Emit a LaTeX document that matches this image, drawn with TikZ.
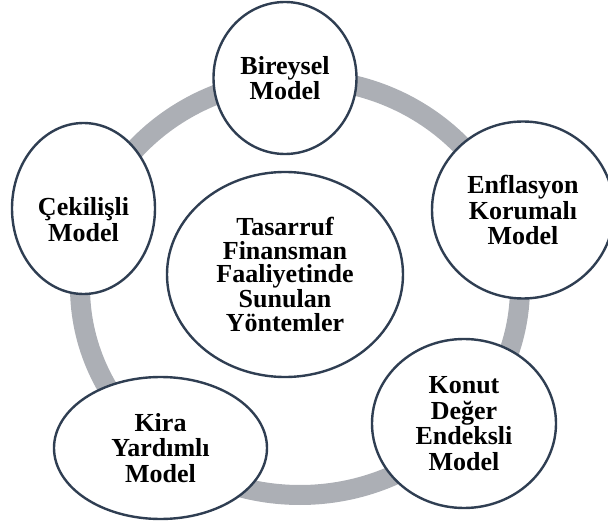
\documentclass[tikz,border=0pt]{standalone}
\usepackage{fontspec}
\setmainfont{Liberation Serif}
\usetikzlibrary{shapes.geometric, positioning}
\definecolor{ringgray}{RGB}{172,175,181}
\definecolor{edgeblue}{RGB}{47,62,82}

\begin{document}
\begin{tikzpicture}
	[x=1pt, y=1pt, on grid,
	 model/.style={ellipse, draw=edgeblue, line width=2.4pt, fill=white, align=center,
	   inner sep=0pt, font=\fontsize{26}{25.5}\selectfont\bfseries}]
   \useasboundingbox (0,0) rectangle (608,520);
   % grey ring behind the models
   \draw[ringgray, line width=20pt] (300,233) ellipse [x radius=220, y radius=208];
   \node[model, minimum width=236pt, minimum height=205pt,
     font=\fontsize{26}{23.5}\selectfont\bfseries] (m_0) at (285,245.5)
     {Tasarruf\\Finansman\\Faaliyetinde\\Sunulan\\Yöntemler};
   \node[model, minimum width=143pt, minimum height=152pt] (m_1) [above=196.5pt of m_0] {Bireysel\\Model};
   \node[model, minimum width=182pt, minimum height=177pt] (m_2) [above right=64.5pt and 238pt of m_0] {Enflasyon\\Korumalı\\Model};
   \node[model, minimum width=184pt, minimum height=169pt] (m_3) [below right=149pt and 179pt of m_0] {Konut\\Değer\\Endeksli\\Model};
   \node[model, minimum width=213pt, minimum height=142pt] (m_4) [below left=173.5pt and 124.5pt of m_0] {Kira\\Yardımlı\\Model};
   % text sits a little low in this one
   \node[model, minimum width=143pt, minimum height=171pt] (m_5) [above left=66pt and 201.5pt of m_0] {\mbox{}\\[15pt]Çekilişli\\Model};
\end{tikzpicture}
\end{document}
